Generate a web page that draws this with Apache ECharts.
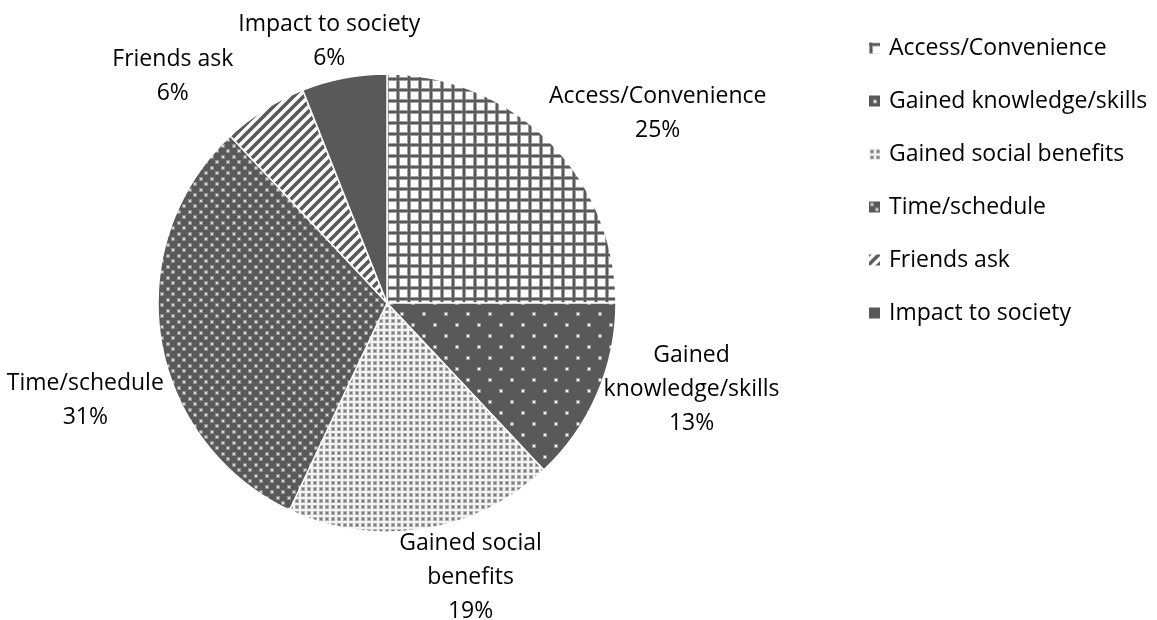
<!DOCTYPE html>
<html><head><meta charset="utf-8">
<script src="https://cdn.jsdelivr.net/npm/echarts@6/dist/echarts.min.js"></script>
<style>html,body{margin:0;padding:0;background:#fff}#c{width:1157px;height:620px}</style>
</head><body><div id="c"></div>
<script>
const categories = ['Access/Convenience','Gained knowledge/skills','Gained social benefits','Time/schedule','Friends ask','Impact to society'];
const values = [25, 13, 19, 31, 6, 6];
const labelTexts = ['Access/Convenience','Gained\nknowledge/skills','Gained social\nbenefits','Time/schedule','Friends ask','Impact to society'];

function tile(w, h, draw){ const c=document.createElement('canvas'); c.width=w; c.height=h; const g=c.getContext('2d'); draw(g,w,h); return c; }
function blob(g,x,y,core,halo){ g.fillStyle=halo; g.fillRect(x-1,y-1,4,4); g.fillStyle=core; g.fillRect(x,y,2,2); }
const DARK = '#595959';
const patGrid = tile(11,11,(g,w,h)=>{ g.fillStyle='#fff'; g.fillRect(0,0,w,h); g.fillStyle='#a0a0a0'; g.fillRect(0,0,w,4); g.fillRect(0,0,4,h); g.fillStyle='#595959'; g.fillRect(0,1,w,2); g.fillRect(1,0,2,h); });
const patKnow = tile(22,22,(g,w,h)=>{ g.fillStyle=DARK; g.fillRect(0,0,w,h); blob(g,5,5,'#f4f4f4','#9a9a9a'); blob(g,16,16,'#f4f4f4','#9a9a9a'); });
const patSocial = tile(6,6,(g,w,h)=>{ g.fillStyle='#f4f4f4'; g.fillRect(0,0,w,h); g.fillStyle='#b0b0b0'; g.fillRect(1,1,4,4); g.fillStyle='#7c7c7c'; g.fillRect(2,2,2,2); });
const patTime = tile(11,11,(g,w,h)=>{ g.fillStyle=DARK; g.fillRect(0,0,w,h); blob(g,2,2,'#d8d8d8','#8e8e8e'); blob(g,7,7,'#d8d8d8','#8e8e8e'); });
const patFriends = tile(10,10,(g,w,h)=>{ g.fillStyle='#fff'; g.fillRect(0,0,w,h); g.strokeStyle=DARK; g.lineWidth=3.6; g.beginPath(); g.moveTo(-2,h+2); g.lineTo(w+2,-2); g.moveTo(-2,2); g.lineTo(2,-2); g.moveTo(w-2,h+2); g.lineTo(w+2,h-2); g.stroke(); });
const fills = [patGrid, patKnow, patSocial, patTime, patFriends, null];

const CX = 387, CY = 303, R = 229;
const labelNudge = {'Access/Convenience':[29,-1],'Gained knowledge/skills':[10,-26],'Gained social benefits':[36,-6],'Time/schedule':[6,56],'Friends ask':[-57,-1],'Impact to society':[3,1]};
const total = values.reduce((a,b)=>a+b,0);

const chart = echarts.init(document.getElementById('c'), null, {renderer:'canvas'});
const FONT = 'Open Sans';
chart.setOption({
  animation:false,
  backgroundColor:'#fff',
  legend:{
    orient:'vertical', left:864, top:31, itemWidth:11, itemHeight:11, itemGap:29, icon:'rect',
    itemStyle:{borderWidth:0},
    textStyle:{fontFamily:FONT, fontSize:23, color:'#000', lineHeight:24, padding:[0,0,0,4]},
    data:categories
  },
  series:[{
    type:'pie', center:[CX,CY], radius:[0,R], startAngle:90, clockwise:true,
    avoidLabelOverlap:false,
    itemStyle:{borderColor:'#fff', borderWidth:1.5},
    label:{show:true, position:'outside', fontFamily:FONT, fontSize:23, lineHeight:34, color:'#000', align:'center',
      formatter:p=>labelTexts[p.dataIndex]+'\n'+p.value+'%'},
    labelLine:{show:false},
    emphasis:{disabled:true},
    labelLayout:function(p){
      const i=p.dataIndex;
      let cum=0; for(let k=0;k<i;k++) cum+=values[k];
      const mid=(cum+values[i]/2)/total*2*Math.PI;
      const dx=Math.sin(mid), dy=-Math.cos(mid);
      const px=CX+(R+4)*dx, py=CY+(R+4)*dy;
      const w=p.labelRect.width, h=p.labelRect.height;
      const n=labelNudge[categories[i]]||[0,0];
      return {x:px+dx*w/2+n[0], y:py+dy*h/2+n[1], align:'center', verticalAlign:'middle'};
    },
    data:categories.map((c,i)=>({name:c, value:values[i], itemStyle:{color: fills[i]?{image:fills[i], repeat:'repeat'}:DARK}}))
  }]
});
</script></body></html>
